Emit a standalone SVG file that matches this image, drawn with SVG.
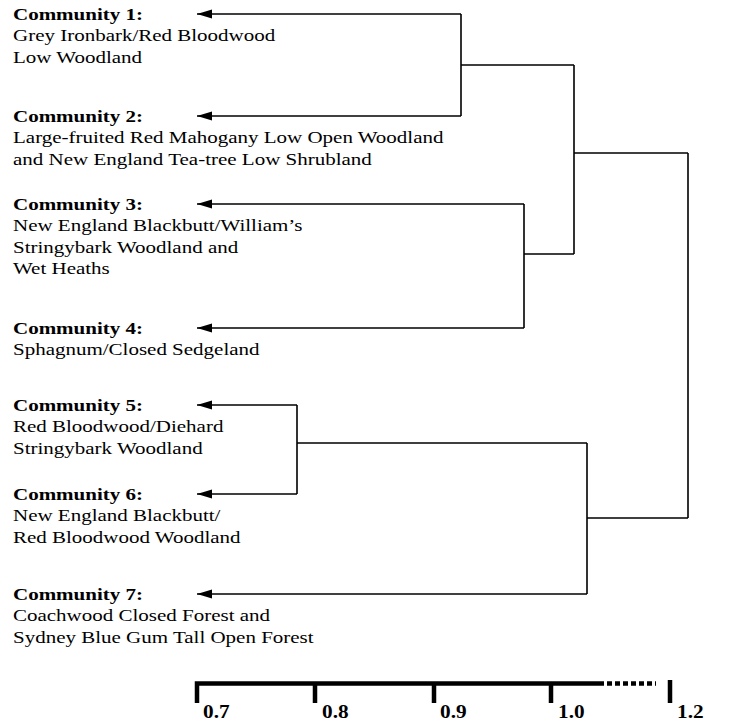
<svg xmlns="http://www.w3.org/2000/svg" width="735" height="725" viewBox="0 0 735 725">
<style>
text{font-family:"Liberation Serif","Times New Roman",serif;font-size:17.5px;fill:#000}
.b{font-weight:bold}
.t{font-size:18.5px}
.c{fill:none;stroke:#000;stroke-width:1.6}
.bar{fill:none;stroke:#000;stroke-width:4.5}
</style>
<defs>
<marker id="ah" markerUnits="userSpaceOnUse" markerWidth="16" markerHeight="10" refX="15" refY="4.5" orient="auto">
<path d="M0,0 L15,4.5 L0,9 z" fill="#000"/>
</marker>
</defs>
<rect width="735" height="725" fill="#fff"/>
<g id="connectors">
<path class="c" d="M461,14 H197" marker-end="url(#ah)"/>
<path class="c" d="M461,116 H197" marker-end="url(#ah)"/>
<path class="c" d="M461,14 V116 M461,65 H574"/>
<path class="c" d="M524,204 H197" marker-end="url(#ah)"/>
<path class="c" d="M524,328 H197" marker-end="url(#ah)"/>
<path class="c" d="M524,204 V328 M524,254 H574"/>
<path class="c" d="M574,65 V254 M574,153 H688"/>
<path class="c" d="M297,405 H197" marker-end="url(#ah)"/>
<path class="c" d="M297,494 H197" marker-end="url(#ah)"/>
<path class="c" d="M297,405 V494 M297,443 H587"/>
<path class="c" d="M587,594 H197" marker-end="url(#ah)"/>
<path class="c" d="M587,443 V594 M587,518 H688 M688,153 V518"/>
</g>
<g id="community1" transform="translate(13,20) scale(1.2,1)">
<text><tspan class="b" x="0" y="0">Community 1:</tspan><tspan x="0" y="21.5">Grey Ironbark/Red Bloodwood</tspan><tspan x="0" y="43">Low Woodland</tspan></text>
</g>
<g id="community2" transform="translate(13,122) scale(1.2,1)">
<text><tspan class="b" x="0" y="0">Community 2:</tspan><tspan x="0" y="21.5">Large-fruited Red Mahogany Low Open Woodland</tspan><tspan x="0" y="43">and New England Tea-tree Low Shrubland</tspan></text>
</g>
<g id="community3" transform="translate(13,210) scale(1.2,1)">
<text><tspan class="b" x="0" y="0">Community 3:</tspan><tspan x="0" y="21.5">New England Blackbutt/William’s</tspan><tspan x="0" y="43">Stringybark Woodland and</tspan><tspan x="0" y="64.5">Wet Heaths</tspan></text>
</g>
<g id="community4" transform="translate(13,334) scale(1.2,1)">
<text><tspan class="b" x="0" y="0">Community 4:</tspan><tspan x="0" y="21.5">Sphagnum/Closed Sedgeland</tspan></text>
</g>
<g id="community5" transform="translate(13,411) scale(1.2,1)">
<text><tspan class="b" x="0" y="0">Community 5:</tspan><tspan x="0" y="21.5">Red Bloodwood/Diehard</tspan><tspan x="0" y="43">Stringybark Woodland</tspan></text>
</g>
<g id="community6" transform="translate(13,500) scale(1.2,1)">
<text><tspan class="b" x="0" y="0">Community 6:</tspan><tspan x="0" y="21.5">New England Blackbutt/</tspan><tspan x="0" y="43">Red Bloodwood Woodland</tspan></text>
</g>
<g id="community7" transform="translate(13,600) scale(1.2,1)">
<text><tspan class="b" x="0" y="0">Community 7:</tspan><tspan x="0" y="21.5">Coachwood Closed Forest and</tspan><tspan x="0" y="43">Sydney Blue Gum Tall Open Forest</tspan></text>
</g>
<g id="scale">
<path class="bar" d="M197,703 V683.5 H604"/>
<path class="bar" d="M607,683.5 H656" stroke-dasharray="5 3"/>
<path class="bar" d="M315,683.5 V703 M434,683.5 V703 M551,683.5 V703 M670,680 V703"/>
<g transform="translate(203,718) scale(1.15,1)"><text class="b t">0.7</text></g>
<g transform="translate(322,718) scale(1.15,1)"><text class="b t">0.8</text></g>
<g transform="translate(440,718) scale(1.15,1)"><text class="b t">0.9</text></g>
<g transform="translate(558,718) scale(1.15,1)"><text class="b t">1.0</text></g>
<g transform="translate(677,718) scale(1.15,1)"><text class="b t">1.2</text></g>
</g>
</svg>
